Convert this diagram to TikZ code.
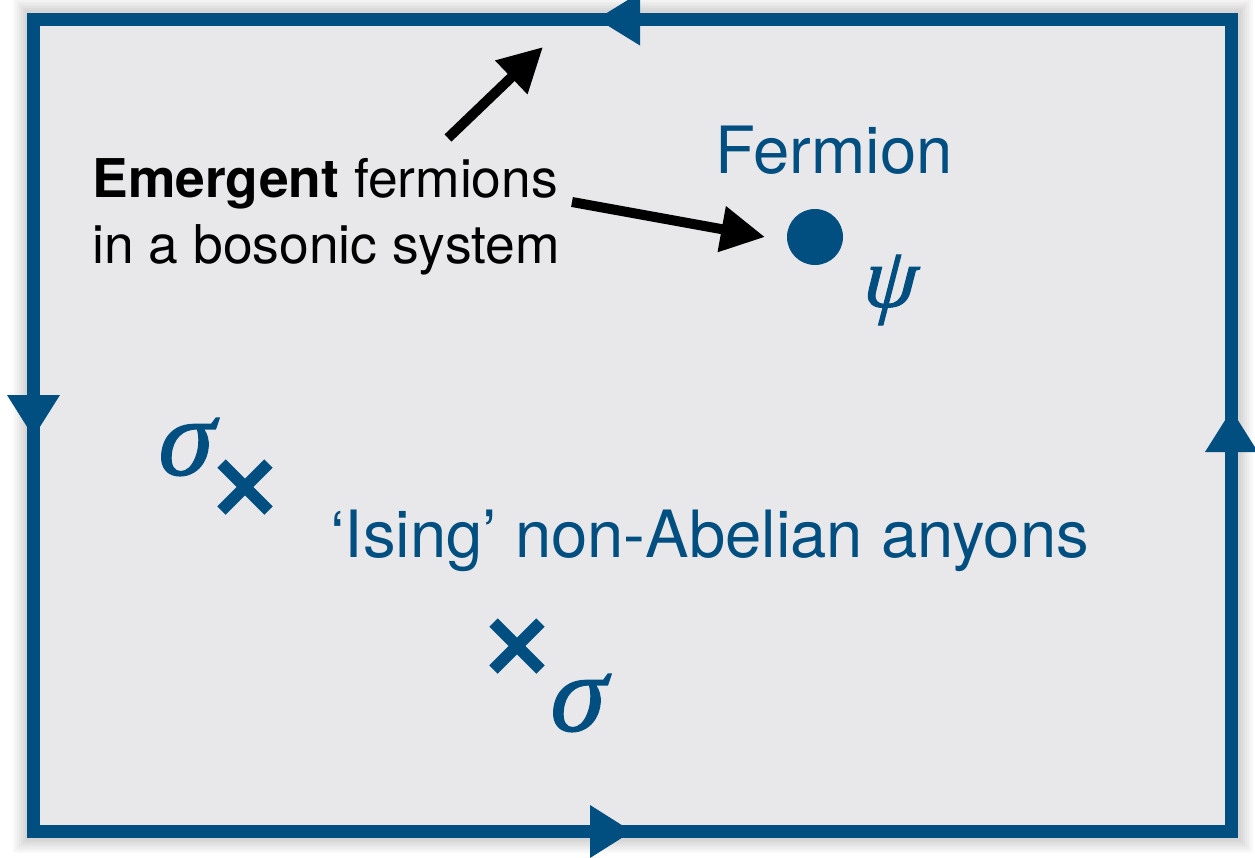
\documentclass[tikz,border=0pt]{standalone}
\usepackage{fontspec}
\setmainfont{TeX Gyre Heros}
\newfontfamily\grk[FakeBold=1.2,FakeSlant=0.08]{Liberation Serif}
\usetikzlibrary{arrows.meta}
\definecolor{frameblue}{RGB}{0,79,128}
\definecolor{panel}{RGB}{232,232,235}
\begin{document}
\begin{tikzpicture}[x=0.5pt,y=-0.5pt,
  frame/.style={draw=frameblue, line width=6.5pt},
  flowtip/.style={fill=frameblue},
  pointer/.style={draw=black, line width=5pt, -{Triangle[length=22pt,width=22pt]}},
  blacktext/.style={inner sep=0pt, anchor=base west, font=\fontsize{26.7}{33}\selectfont, text=black},
  bluetext/.style={inner sep=0pt, anchor=base west, font=\fontsize{32.6}{38}\selectfont, text=frameblue},
  greek/.style={inner sep=0pt, text=frameblue, font=\fontsize{55}{60}\selectfont\grk\itshape},
  greekpsi/.style={inner sep=0pt, text=frameblue, font=\fontsize{43}{48}\selectfont\grk\itshape},
  xmark/.pic={\draw[frameblue, line width=6pt] (-23.5,-23.5) -- (23.5,23.5) (-23.5,23.5) -- (23.5,-23.5);}
]
\useasboundingbox (0,0) rectangle (1255,858);
\fill[white] (0,0) rectangle (1255,858);
% soft shadow
\foreach \w in {9,11,13,15,17,19,21}
  \draw[black, opacity=0.025, line width=\w pt] (33.5,19) rectangle (1231.5,831.5);
% panel
\fill[panel] (33.5,19) rectangle (1231.5,831.5);
\draw[frame] (1231.5,19) -- (33.5,19) -- (33.5,831.5) -- (1231.5,831.5) -- cycle;
% flow arrows on the frame
\fill[flowtip] (597,19) -- (640,-7.5) -- (640,45.5) -- cycle;
\fill[flowtip] (33.5,437) -- (7,395) -- (60,395) -- cycle;
\fill[flowtip] (632,831.5) -- (590,805) -- (590,858) -- cycle;
\fill[flowtip] (1231.5,410) -- (1205,452) -- (1258,452) -- cycle;
% texts
\node[blacktext] (em1) at (92,197) {\textbf{Emergent} fermions};
\node[blacktext] (em2) at (92,263) {in a bosonic system};
\node[bluetext] (ferm) at (715,173) {Fermion};
\node[bluetext] (ising) at (330,557) {‘Ising’ non-Abelian anyons};
% particles
\node[circle, fill=frameblue, inner sep=0pt, minimum size=28pt] (dot) at (815,237) {};
\node[greekpsi] (psi) at (889,290) {ψ};
\node[greek] (sig1) at (184,447) {σ};
\node[greek] (sig2) at (576,703) {σ};
\pic at (245,487) {xmark};
\pic at (517,646) {xmark};
% pointers
\coordinate (p1s) at (448,138);
\coordinate (p1e) at (543,47);
\coordinate (p2s) at (572,202);
\coordinate (p2e) at (765,237);
\draw[pointer] (p1s) -- (p1e);
\draw[pointer] (p2s) -- (p2e);
\end{tikzpicture}
\end{document}
